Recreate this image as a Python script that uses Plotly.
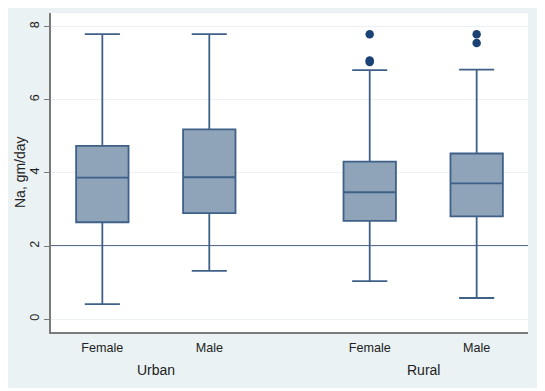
import plotly.graph_objects as go

# ---- data ----
groups = ["Urban", "Urban", "Rural", "Rural"]
sexes = ["Female", "Male", "Female", "Male"]
positions = [0, 1, 2.5, 3.5]
lower_whisker = [0.41, 1.32, 1.04, 0.58]
q1_vals = [2.65, 2.90, 2.69, 2.81]
median_vals = [3.87, 3.88, 3.47, 3.71]
q3_vals = [4.74, 5.19, 4.31, 4.53]
upper_whisker = [7.79, 7.79, 6.81, 6.82]
outlier_pos = [2.5, 2.5, 2.5, 3.5, 3.5]
outlier_vals = [7.79, 7.07, 7.03, 7.79, 7.55]
group_labels = ["Urban", "Rural"]
group_centers = [0.5, 3.0]
y_ticks = [0, 2, 4, 6, 8]
ref_line = 2

# ---- style ----
OFF = 8  # page body margin offset
W, H = 545 - OFF, 391 - OFF
ML, MR, MT, MB = 51 - OFF, 17, 13 - OFF, 59
BG = "#eaf2f4"
BOX_FILL = "#8fa4b8"
BOX_LINE = "#3f6189"
OUT = "#1b4274"
FONT = "Liberation Sans, Arial, sans-serif"

fig = go.Figure()
for i in range(len(positions)):
    fig.add_trace(go.Box(
        x=[positions[i]],
        q1=[q1_vals[i]], median=[median_vals[i]], q3=[q3_vals[i]],
        lowerfence=[lower_whisker[i]], upperfence=[upper_whisker[i]],
        width=0.49, whiskerwidth=0.67,
        fillcolor=BOX_FILL,
        line=dict(color=BOX_LINE, width=1.8),
        boxpoints=False, showlegend=False, hoverinfo="skip",
    ))

fig.add_trace(go.Scatter(
    x=outlier_pos, y=outlier_vals, mode="markers",
    marker=dict(color=OUT, size=8.5), showlegend=False, hoverinfo="skip",
))

pw = W - ML - MR
ph = H - MT - MB
shapes = [
    dict(type="rect", xref="paper", yref="paper",
         x0=-ML / pw - 0.01, x1=(541 - OFF - ML) / pw,
         y0=(H - MB - (388 - OFF)) / ph, y1=(H - MB) / ph + 0.01,
         fillcolor=BG, line=dict(width=0), layer="below"),
    dict(type="rect", xref="paper", yref="paper",
         x0=0, x1=1, y0=0, y1=1,
         fillcolor="white", line=dict(width=0), layer="below"),
    dict(type="line", xref="paper", yref="y",
         x0=0, x1=1, y0=ref_line, y1=ref_line,
         line=dict(color="#5b6d88", width=2), layer="between"),
]

annotations = [
    dict(x=gc, y=(H - MB - (370.5 - OFF)) / ph, xref="x", yref="paper",
         text=gl, showarrow=False, yanchor="middle",
         font=dict(family=FONT, size=14, color="#222"))
    for gl, gc in zip(group_labels, group_centers)
]
annotations.append(dict(
    x=(19.5 - OFF - ML) / pw, y=0.5, xref="paper", yref="paper",
    text="Na, gm/day", textangle=-90, showarrow=False,
    xanchor="center", yanchor="middle",
    font=dict(family=FONT, size=14, color="#222"),
))

fig.update_layout(
    width=W, height=H,
    margin=dict(l=ML, r=MR, t=MT, b=MB),
    paper_bgcolor="white", plot_bgcolor="white",
    font=dict(family=FONT, color="#222"),
    shapes=shapes, annotations=annotations,
    xaxis=dict(
        range=[-0.48, 3.98],
        tickvals=positions, ticktext=sexes,
        showgrid=False, zeroline=False,
        showline=True, linecolor="#7a7a7a", linewidth=1.5,
        ticks="", ticklabelstandoff=3,
        tickfont=dict(family=FONT, size=12.6, color="#222"),
    ),
    yaxis=dict(
        range=[-0.35, 8.37],
        tickvals=y_ticks, tickangle=-90,
        showgrid=True, gridcolor="#ecf2f4", gridwidth=1,
        zeroline=False,
        showline=True, linecolor="#7a7a7a", linewidth=1.5,
        ticks="outside", ticklen=5, tickcolor="#7a7a7a", tickwidth=1,
        ticklabelstandoff=0,
        tickfont=dict(family=FONT, size=12.6, color="#222"),
    ),
)

fig.write_html("out.html")
